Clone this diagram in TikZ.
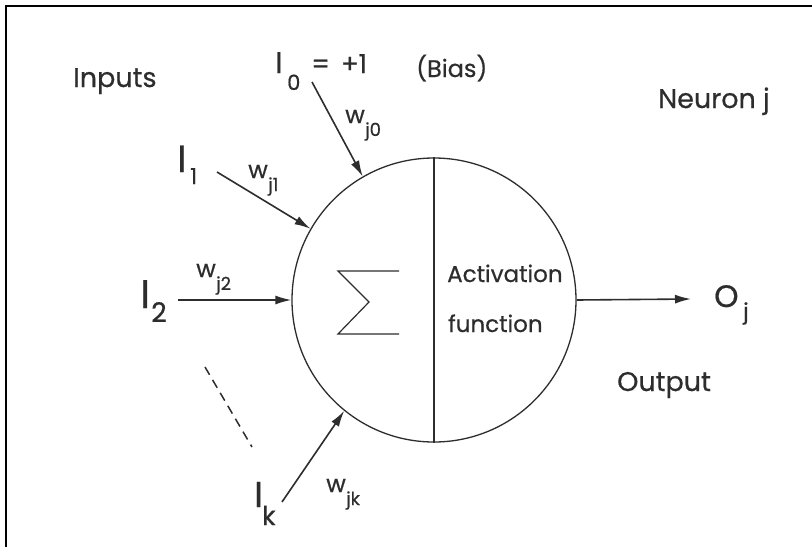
\documentclass[tikz,border=0pt]{standalone}
\usepackage{fontspec}
\setmainfont{Poppins}[FakeBold=0.5]
\usetikzlibrary{arrows.meta}
\definecolor{ink}{RGB}{45,45,45}
\newcommand{\fs}[1]{\fontsize{#1}{#1}\selectfont}
\tikzset{
  lbl/.style={inner sep=0pt, anchor=base west, text=ink},
  conn/.style={draw=ink, line width=1.6pt, -{Latex[length=16pt,width=9pt]}},
  neuronshape/.style={circle, draw=ink, line width=1.3pt, minimum size=284pt, inner sep=0pt}
}
\begin{document}
\begin{tikzpicture}[x=1pt,y=-1pt]
\useasboundingbox (0,0) rectangle (812,547);
\fill[white] (0,0) rectangle (812,547);
% frame
\draw[black, line width=1.5pt] (6,547) -- (6,6) -- (812,6);
% neuron
\node[neuronshape] (neuron) at (434,300) {};
\draw[ink, line width=1.3pt] (neuron.north) -- (neuron.south);
% sigma
\draw[ink, line width=1.2pt, line join=miter] (399,271) -- (338,271) -- (369,302) -- (338,334) -- (399,334);
\node[lbl] (act) at (447,282) {\fs{23}Activation};
\node[lbl] (fun) at (448,332) {\fs{23}function};
% headings
\node[lbl] (inputs) at (73,87) {\fs{27}Inputs};
\node[lbl] (neuronj) at (658,108) {\fs{27}Neuron j};
\node[lbl] (outputlbl) at (617,391) {\fs{27}Output};
% output
\node[lbl] (O) at (714,307) {\fs{31}O};
\node[lbl] (Osub) at (743,319) {\fs{22}j};
\coordinate (oend) at (691,299);
\draw[conn] (neuron.east) -- (oend);
% bias input
\node[lbl] (I0) at (275,73) {\fs{30}I};
\node[lbl] (I0sub) at (287,90) {\fs{21}0};
\node[lbl] (eq) at (311,73) {\fs{26}=\hspace{11pt}+1};
\node[lbl] (bias) at (416,77) {\fs{24}(Bias)};
\coordinate (s0) at (312,82);
\draw[conn] (s0) -- (neuron.120);
\node[lbl] (w0) at (345,123) {\fs{24}w};
\node[lbl] (w0s) at (365,136) {\fs{18}j0};
% input 1
\node[lbl] (I1) at (177,172) {\fs{38}I};
\node[lbl] (I1sub) at (190,184) {\fs{22}1};
\coordinate (s1) at (217,172);
\draw[conn] (s1) -- (neuron.150);
\node[lbl] (w1) at (248,178) {\fs{24}w};
\node[lbl] (w1s) at (268,191) {\fs{18}j1};
% input 2
\node[lbl] (I2) at (140,308) {\fs{40}I};
\node[lbl] (I2sub) at (151,322) {\fs{27}2};
\coordinate (s2) at (178,300);
\draw[conn] (s2) -- (neuron.west);
\node[lbl] (w2) at (196,277) {\fs{24}w};
\node[lbl] (w2s) at (216,290) {\fs{18}j2};
% dashed
\coordinate (d1) at (205,367);
\coordinate (d2) at (252,447);
\draw[ink, line width=1.5pt, dash pattern=on 9pt off 6pt] (d1) -- (d2);
% input k
\node[lbl] (Ik) at (254,507) {\fs{36}I};
\node[lbl] (Iksub) at (262,525) {\fs{26}k};
\coordinate (sk) at (282,502);
\draw[conn] (sk) -- (neuron.231);
\node[lbl] (wk) at (326,492) {\fs{24}w};
\node[lbl] (wks) at (346,505) {\fs{18}jk};
\end{tikzpicture}
\end{document}
